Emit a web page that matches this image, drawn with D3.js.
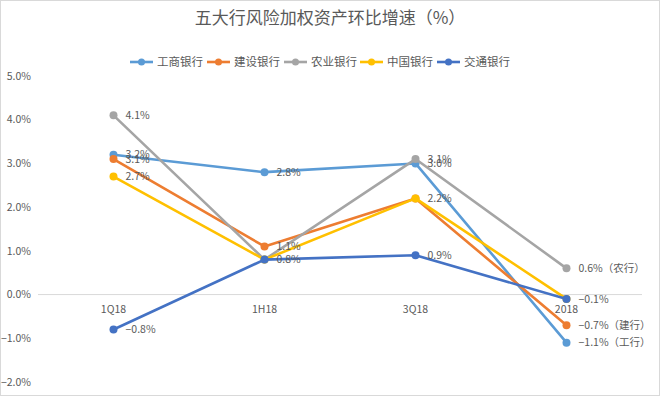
<!DOCTYPE html>
<html>
<head>
<meta charset="utf-8">
<script src="https://cdn.jsdelivr.net/npm/d3@7"></script>
<style>
  body { margin: 0; background: #fff; }
  svg { font-family: "Noto Sans CJK SC", "Microsoft YaHei", sans-serif; }
</style>
</head>
<body>
<svg id="chart" width="660" height="396"></svg>
<script>
// categories and series values (%)
const periods = ["1Q18", "1H18", "3Q18", "2018"];
const icbc = [3.2, 2.8, 3.0, -1.1];
const ccb = [3.1, 1.1, 2.2, -0.7];
const abc = [4.1, 0.8, 3.1, 0.6];
const boc = [2.7, 0.8, 2.2, -0.1];
const bocom = [-0.8, 0.8, 0.9, -0.1];
const yTicks = [-2, -1, 0, 1, 2, 3, 4, 5];

const series = [
  { name: "工商银行", values: icbc, color: "#5b9bd5", tail: "（工行）" },
  { name: "建设银行", values: ccb, color: "#ed7d31", tail: "（建行）" },
  { name: "农业银行", values: abc, color: "#a5a5a5", tail: "（农行）" },
  { name: "中国银行", values: boc, color: "#ffc000", tail: "" },
  { name: "交通银行", values: bocom, color: "#4472c4", tail: "" }
];

const svg = d3.select("#chart");
const txt = "#595959";

// outer frame
svg.append("rect")
  .attr("x", 0.5).attr("y", 0.5)
  .attr("width", 659).attr("height", 395)
  .attr("fill", "#fff").attr("stroke", "#d9d9d9");

const x = d3.scaleBand().domain(periods).range([38, 642]);
const y = d3.scaleLinear().domain([-2, 5]).range([382, 76]);
const cx = i => x(periods[i]) + x.bandwidth() / 2;

// title
svg.append("text")
  .attr("x", 330).attr("y", 24)
  .attr("text-anchor", "middle")
  .attr("font-size", 17)
  .attr("fill", txt)
  .text("五大行风险加权资产环比增速（%）");

// y axis labels
svg.append("g").selectAll("text")
  .data(yTicks).enter().append("text")
  .attr("x", 31)
  .attr("y", d => y(d))
  .attr("dy", "0.35em")
  .attr("text-anchor", "end")
  .attr("font-size", 10.5)
  .attr("fill", txt)
  .text(d => d3.format(".1f")(d) + "%");

// zero line
svg.append("line")
  .attr("x1", 38).attr("x2", 642)
  .attr("y1", y(0)).attr("y2", y(0))
  .attr("stroke", "#d9d9d9");

// category labels under the zero line
svg.append("g").selectAll("text")
  .data(periods).enter().append("text")
  .attr("x", d => x(d) + x.bandwidth() / 2)
  .attr("y", y(0) + 18)
  .attr("text-anchor", "middle")
  .attr("font-size", 10.5)
  .attr("fill", txt)
  .text(d => d);

const line = d3.line()
  .x((d, i) => cx(i))
  .y(d => y(d));

series.forEach(s => {
  const g = svg.append("g");
  g.append("path")
    .attr("d", line(s.values))
    .attr("fill", "none")
    .attr("stroke", s.color)
    .attr("stroke-width", 2.6)
    .attr("stroke-linejoin", "round");
  g.selectAll("circle")
    .data(s.values).enter().append("circle")
    .attr("cx", (d, i) => cx(i))
    .attr("cy", d => y(d))
    .attr("r", 4)
    .attr("fill", s.color);
});

// data labels (identical labels at the same point drawn once)
const labels = [];
const seen = new Set();
series.forEach(s => {
  s.values.forEach((v, i) => {
    const key = i + ":" + v;
    if (seen.has(key)) return;
    seen.add(key);
    labels.push({ i, v, text: d3.format(".1f")(v) + "%" + (i === 3 ? s.tail : "") });
  });
});
svg.append("g").selectAll("text")
  .data(labels).enter().append("text")
  .attr("x", d => cx(d.i) + 12)
  .attr("y", d => y(d.v))
  .attr("dy", "0.35em")
  .attr("font-size", 10.5)
  .attr("fill", txt)
  .text(d => d.text);

// legend
const legendX = [130, 207, 284, 360, 437];
const legend = svg.append("g").selectAll("g")
  .data(series).enter().append("g")
  .attr("transform", (d, i) => `translate(${legendX[i]},62)`);
legend.append("line")
  .attr("x1", 0).attr("x2", 23)
  .attr("stroke", d => d.color).attr("stroke-width", 2.6);
legend.append("circle")
  .attr("cx", 11.5).attr("r", 3.5)
  .attr("fill", d => d.color);
legend.append("text")
  .attr("x", 27).attr("dy", "0.35em")
  .attr("font-size", 11.5)
  .attr("fill", txt)
  .text(d => d.name);
</script>
</body>
</html>
